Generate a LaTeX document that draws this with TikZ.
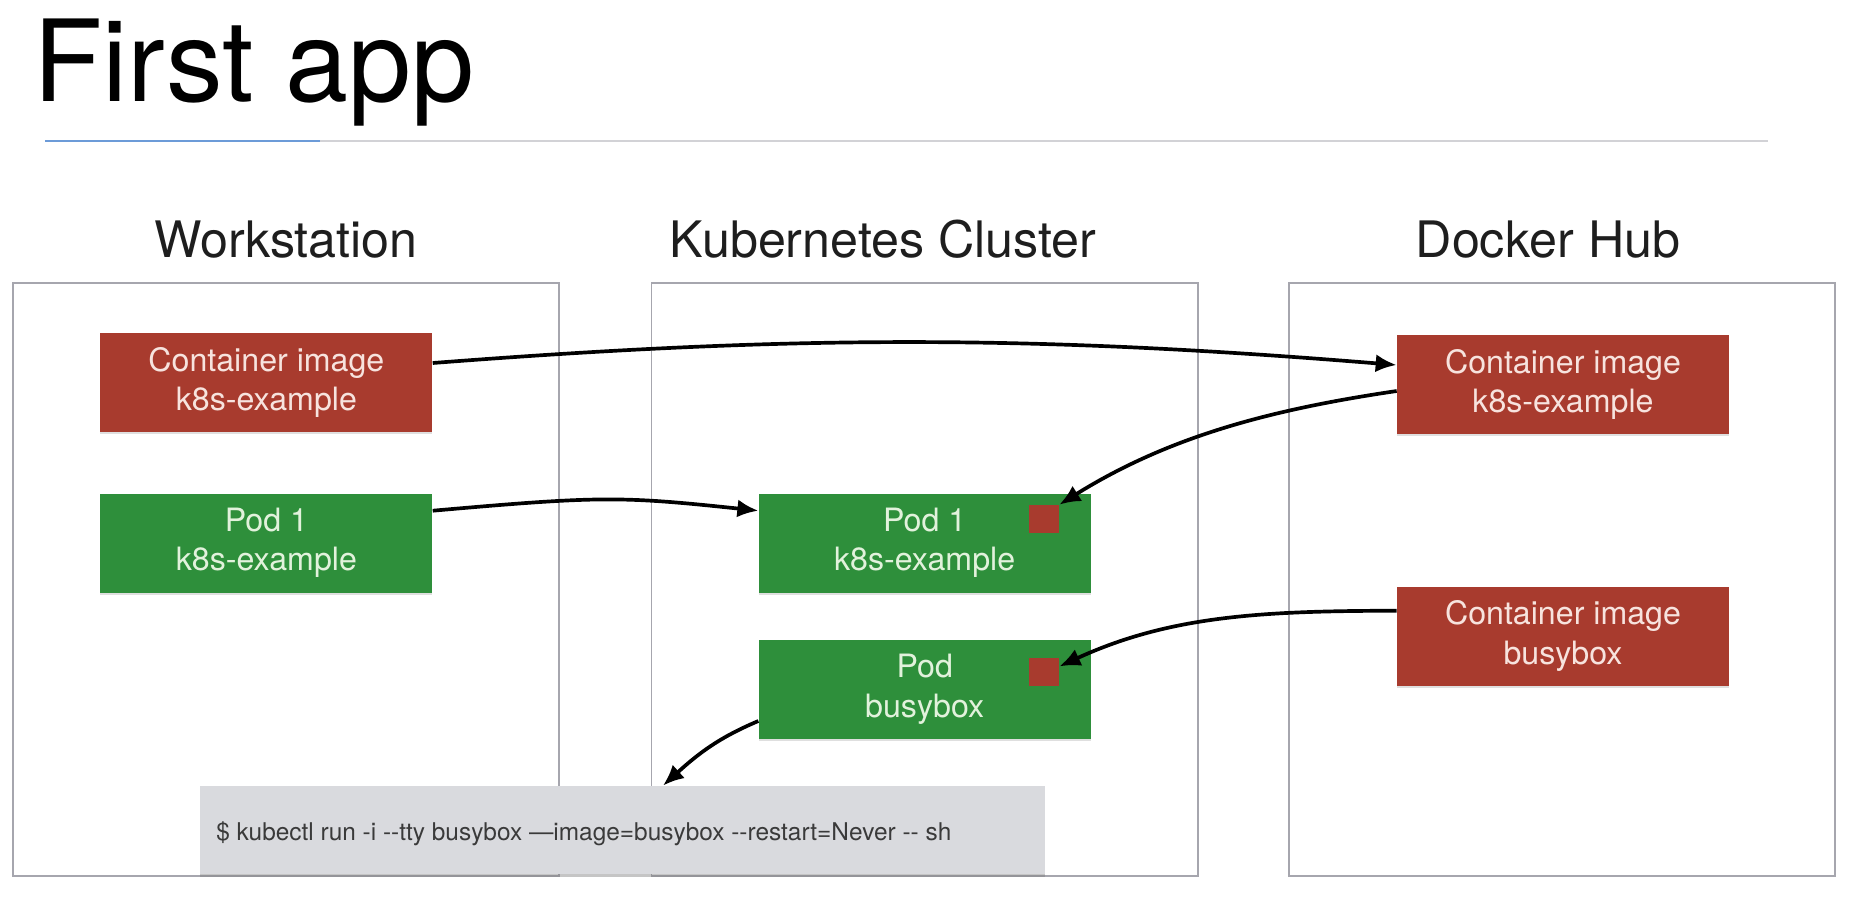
\documentclass[tikz,border=0pt]{standalone}
\usepackage{fontspec}
\setmainfont{TeX Gyre Heros}
\usetikzlibrary{arrows.meta,shadows}
\definecolor{boxred}{HTML}{A83B2E}
\definecolor{boxgreen}{HTML}{2E8F3B}
\definecolor{redtext}{HTML}{F7E3DE}
\definecolor{greentext}{HTML}{E2F2DC}
\definecolor{framegrey}{HTML}{A6A6AE}
\definecolor{cmdfill}{HTML}{D9DADE}
\definecolor{cmdtext}{HTML}{3A3A3A}
\definecolor{ruleblue}{HTML}{6C9BD8}
\definecolor{rulegrey}{HTML}{D2D2D6}
\definecolor{headtext}{HTML}{1E1E1E}
\tikzset{
  x=0.02cm, y=-0.02cm,
  frame/.style={draw=framegrey, line width=1pt},
  boxbase/.style={inner sep=0pt, minimum width=6.64cm, minimum height=1.98cm,
    align=center, font=\fontsize{18.3}{22.5}\selectfont,
    drop shadow={shadow xshift=0pt, shadow yshift=-1.2pt, opacity=0.25}},
  imgbox/.style={boxbase, fill=boxred, text=redtext},
  podbox/.style={boxbase, fill=boxgreen, text=greentext},
  sqbox/.style={fill=boxred, inner sep=0pt, minimum width=0.6cm, minimum height=0.56cm},
  header/.style={anchor=base, text=headtext, font=\fontsize{28.6}{32}\selectfont},
  conn/.style={line width=2.1pt, -{Latex[length=0.42cm,width=0.36cm]}},
}
\begin{document}
\begin{tikzpicture}
\useasboundingbox (0,0) rectangle (1854,904);
\fill[white] (0,0) rectangle (1854,904);
% title
\node[anchor=base west, inner sep=0pt, font=\fontsize{64.5}{70}\selectfont] (title) at (33,101.7) {First app};
\draw[rulegrey, line width=1pt] (320,141) -- (1768,141);
\draw[ruleblue, line width=1.2pt] (45,141) -- (320,141);
% headers
\node[header] (hws) at (286,257) {Workstation};
\node[header] (hk8s) at (883,257) {Kubernetes Cluster};
\node[header] (hdh) at (1548,257) {Docker Hub};
% frames
\draw[frame] (13,283) rectangle (559,876);
\draw[frame] (651.5,283) rectangle (1198,876);
\draw[frame] (1289,283) rectangle (1835,876);
% boxes
\node[imgbox] (wsimg) at (266.4,382.5) {Container image\\k8s-example};
\node[podbox] (wspod) at (266.4,543) {Pod 1\\k8s-example};
\node[imgbox] (dhimg1) at (1563,384.3) {Container image\\k8s-example};
\node[imgbox] (dhimg2) at (1563,636) {Container image\\busybox};
\node[podbox] (k8spod1) at (924.7,543) {Pod 1\\k8s-example};
\node[podbox] (k8spod2) at (924.7,689.4) {Pod\\busybox};
\node[sqbox] (sq1) at (1044,519) {};
\node[sqbox] (sq2) at (1044,672) {};
% command box
\node[fill=cmdfill, inner sep=0pt, minimum width=16.91cm, minimum height=1.77cm,
  drop shadow={shadow xshift=0pt, shadow yshift=-1.5pt, opacity=0.45}] (cmd) at (622.7,830.2) {};
\node[anchor=base west, inner sep=0pt, text=cmdtext, font=\fontsize{13.9}{16}\selectfont] (cmdtxt) at (216,840)
  {\$ kubectl run -i -{}-tty busybox —image=busybox -{}-restart=Never -{}- sh};
% connectors
\draw[conn] ([yshift=0.39cm]wsimg.east) .. controls (796,335) and (1030,335) .. ([yshift=0.386cm]dhimg1.west);
\draw[conn] ([yshift=-0.134cm]dhimg1.west) .. controls (1275,409) and (1171,435) .. (sq1.north east);
\draw[conn] ([yshift=0.646cm]wspod.east) .. controls (600,496) and (620,496) .. ([yshift=0.646cm]k8spod1.west);
\draw[conn] ([yshift=0.506cm]dhimg2.west) .. controls (1265,611) and (1171,615) .. (sq2.20);
\draw[conn] ([yshift=-0.632cm]k8spod2.west) .. controls (718,738) and (698,754) .. ([xshift=0.806cm]cmd.north);
\end{tikzpicture}
\end{document}
